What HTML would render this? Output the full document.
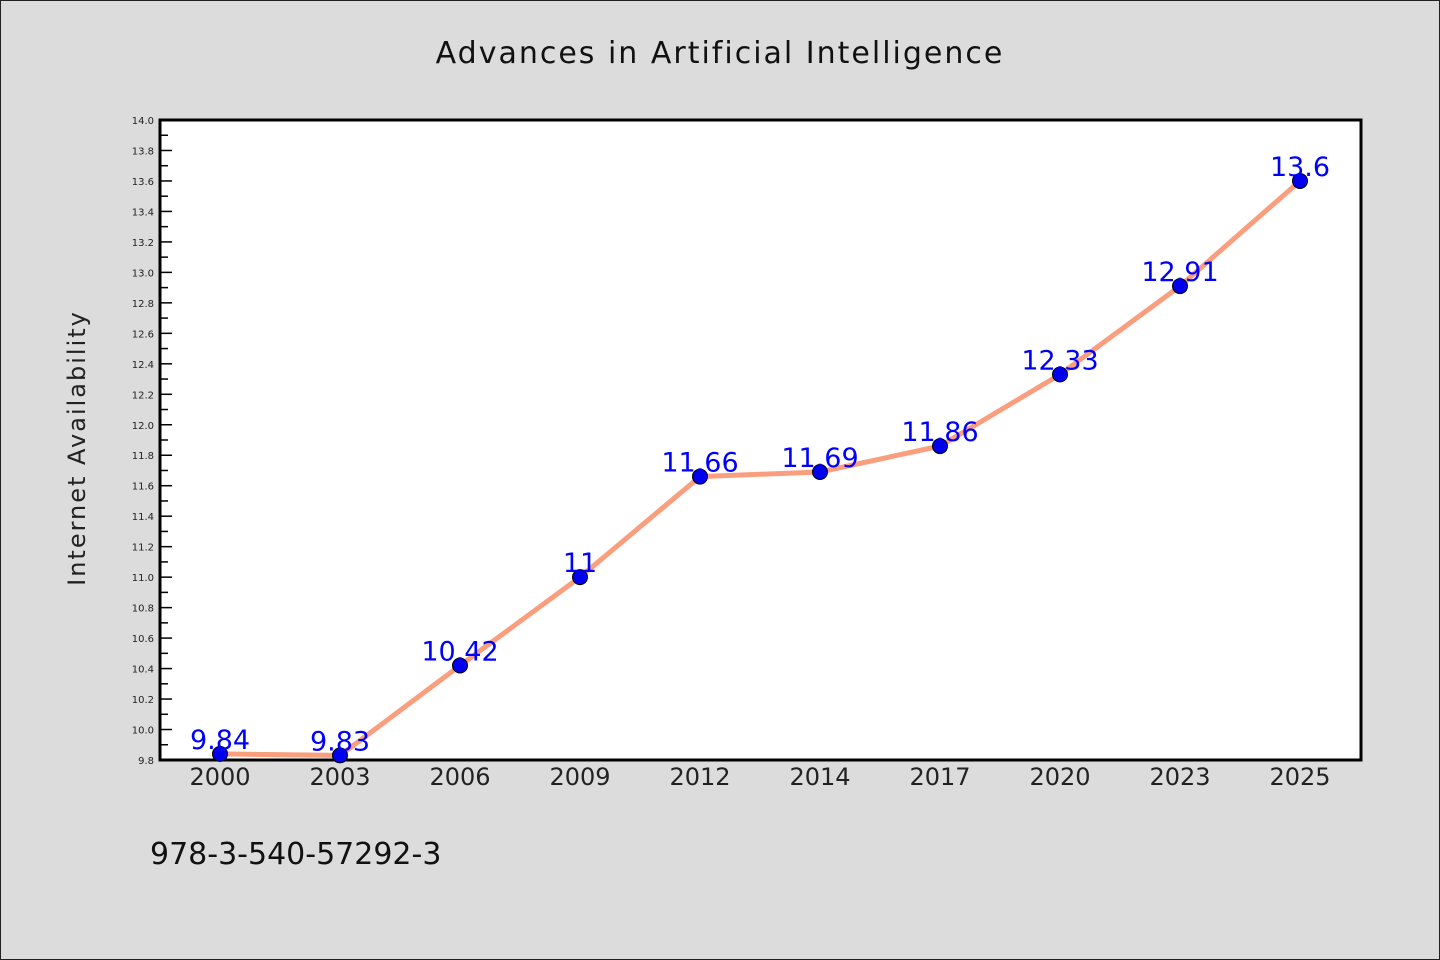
<!DOCTYPE html>
<html><head><meta charset="utf-8"><style>
body{margin:0;background:#dcdcdc;}
svg{display:block;font-family:"WenQuanYi Zen Hei","DejaVu Sans",sans-serif;}
</style></head><body>
<svg id="c" width="1440" height="960">
<rect x="0.5" y="0.5" width="1439" height="959" fill="#dcdcdc" stroke="#222"/>
<text x="720" y="63" text-anchor="middle" font-size="30" fill="#111" letter-spacing="2">Advances in Artificial Intelligence</text>
<rect x="160" y="120" width="1201" height="640" fill="#fff"/>
<text transform="translate(85,448) rotate(-90)" text-anchor="middle" font-size="24" fill="#222" letter-spacing="2">Internet Availability</text>
<text x="150" y="864" font-size="30" fill="#111">978-3-540-57292-3</text>
<g id="g"></g>
</svg>
<script>
const categories=["2000","2003","2006","2009","2012","2014","2017","2020","2023","2025"];
const values=[9.84,9.83,10.42,11,11.66,11.69,11.86,12.33,12.91,13.6];
const valueLabels=["9.84","9.83","10.42","11","11.66","11.69","11.86","12.33","12.91","13.6"];
const yMin=9.8,yMax=14.0;
const NS="http://www.w3.org/2000/svg";
const g=document.getElementById("g");
const L=160,R=1361,T=120,B=760;
const x=i=>220+i*(1300-220)/(categories.length-1);
const y=v=>B-(v-yMin)/(yMax-yMin)*(B-T);
function mk(t,a){const e=document.createElementNS(NS,t);for(const k in a)e.setAttribute(k,a[k]);g.appendChild(e);return e;}
for(let k=0;k<=42;k++){const v=yMin+k*0.1;const yy=y(v);const major=k%2==0;
 const t=mk("line",{x1:L,x2:L+(major?12:8),y1:yy,y2:yy,stroke:"#000","stroke-width":1.5});
 
 
 if(major){const tx=mk("text",{x:L-6,y:yy+4,"text-anchor":"end","font-size":10,fill:"#222"});tx.textContent=v.toFixed(1);
 
 }}
categories.forEach((c,i)=>{const tx=mk("text",{x:x(i),y:785,"text-anchor":"middle","font-size":24,fill:"#222"});tx.textContent=c;
 
 });
const ax=mk("rect",{x:L,y:T,width:R-L,height:B-T,fill:"none",stroke:"#000","stroke-width":3});


const ln=mk("polyline",{points:values.map((v,i)=>x(i)+","+y(v)).join(" "),fill:"none",stroke:"#fa9e7e","stroke-width":5});


values.forEach((v,i)=>{const c=mk("circle",{cx:x(i),cy:y(v),r:7.5,fill:"#0000ee",stroke:"#000","stroke-width":1});
 
 });
values.forEach((v,i)=>{const t=mk("text",{x:x(i),y:y(v)-5,"text-anchor":"middle","font-size":27,fill:"#0000ff"});t.textContent=valueLabels[i];
 
 });
</script>
</body></html>
